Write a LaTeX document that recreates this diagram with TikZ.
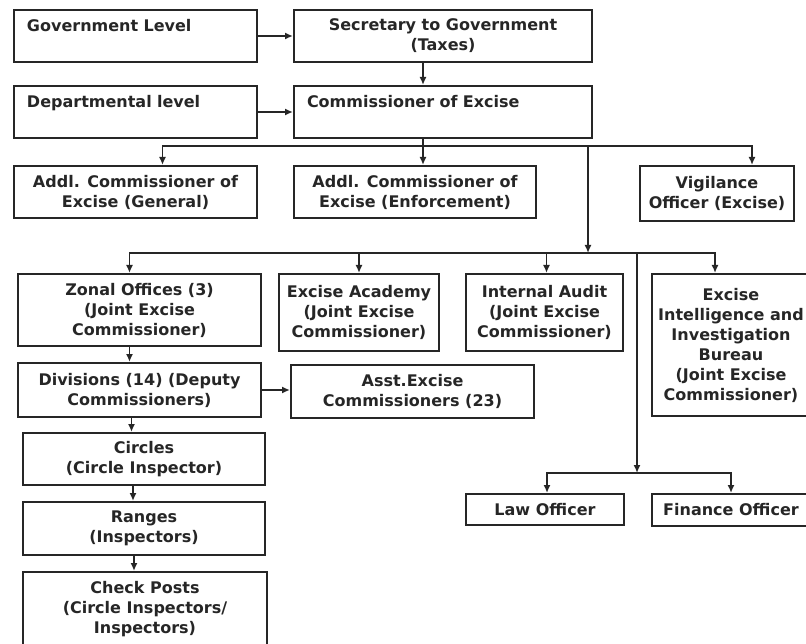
\documentclass[tikz,border=0pt]{standalone}
\usepackage{fontspec}
\setmainfont{DejaVu Sans}
\usetikzlibrary{positioning,arrows.meta}
\definecolor{ink}{HTML}{262626}
\tikzset{
    box/.style = {
        draw=ink,
        shape=rectangle,
        anchor=north west,
        align=center,
        inner sep=3pt,
        line width=2pt,
        text=ink,
        font=\bfseries\fontsize{16}{20}\selectfont
    },
    headbox/.style = {
        box,
        align=left,
        text width=#1,
        inner xsep=13pt,
        text height=19pt,
        text depth=27pt
    },
    link/.style = {
        draw=ink,
        line width=1.6pt
    },
    >={Latex[length=8pt, width=7pt]},
}

\begin{document}
\begin{tikzpicture}[x=1pt, y=-1pt]
            \useasboundingbox (0,0) rectangle (806,644);

            \node[headbox=217pt] (gov) at (13,9) {Government Level};
            \node[box, minimum width=298pt, minimum height=52pt] (sec) at (293,9) {Secretary to Government\\(Taxes)};
            \node[headbox=217pt] (dept) at (13,85) {Departmental level};
            \node[headbox=272pt] (comm) at (293,85) {Commissioner of Excise};

            \node[box, minimum width=243pt, minimum height=52pt] (addlg) at (13,165) {Addl. Commissioner of\\Excise (General)};
            \node[box, minimum width=242pt, minimum height=52pt] (addle) at (293,165) {Addl. Commissioner of\\Excise (Enforcement)};
            \node[box, minimum width=154pt, minimum height=55pt] (vig) at (639,165) {Vigilance\\Officer (Excise)};

            \node[box, minimum width=243pt, minimum height=72pt] (zone) at (17,273) {Zonal Offices (3)\\(Joint Excise\\Commissioner)};
            \node[box, minimum width=160pt, minimum height=77pt] (acad) at (278,273) {Excise Academy\\(Joint Excise\\Commissioner)};
            \node[box, minimum width=157pt, minimum height=77pt] (audit) at (465,273) {Internal Audit\\(Joint Excise\\Commissioner)};
            \node[box, minimum width=158pt, minimum height=142pt] (intel) at (651,273) {Excise\\Intelligence and\\Investigation\\Bureau\\(Joint Excise\\Commissioner)};

            \node[box, minimum width=243pt, minimum height=54pt] (div) at (17,362) {Divisions (14) (Deputy\\Commissioners)};
            \node[box, minimum width=243pt, minimum height=53pt] (asst) at (290,364) {Asst.Excise\\Commissioners (23)};
            \node[box, minimum width=242pt, minimum height=52pt] (circ) at (22,432) {Circles\\(Circle Inspector)};
            \node[box, minimum width=242pt, minimum height=53pt] (rng) at (22,501) {Ranges\\(Inspectors)};
            \node[box, minimum width=244pt, minimum height=75pt] (chk) at (22,571) {Check Posts\\(Circle Inspectors/\\Inspectors)};

            \node[box, minimum width=158pt, minimum height=31pt] (law) at (465,493) {Law Officer};
            \node[box, minimum width=158pt, minimum height=32pt] (fin) at (651,493) {Finance Officer};

            \coordinate (c1) at (423,146);
            \coordinate (c2) at (588,253);
            \coordinate (c3) at (637,473);

            \path[link, ->] (gov) -- (sec);
            \path[link, ->] (dept) -- (comm);
            \path[link, ->] (sec.south -| c1) -- (comm.north -| c1);
            \path[link] (comm.south -| c1) -- (c1);
            \path[link, ->] (c1) -| ([xshift=27pt]addlg.north);
            \path[link, ->] (c1) -- (addle.north -| c1);
            \path[link, ->] (c1) -| ([xshift=35pt]vig.north);
            \path[link, ->] (c1 -| c2) -- (c2);

            \path[link, ->] (c2) -| ([xshift=-10pt]zone.north);
            \path[link, ->] (c2) -| (acad.north);
            \path[link, ->] (c2) -| ([xshift=2pt]audit.north);
            \path[link, ->] (c2) -| ([xshift=-16pt]intel.north);
            \path[link, ->] (c2 -| c3) -- (c3);
            \path[link, ->] (c3) -| ([xshift=2pt]law.north);
            \path[link, ->] (c3) -| (fin.north);

            % left column
            \path[link, ->] ([xshift=-10pt]zone.south) -- ([xshift=-10pt]zone.south |- div.north);
            \path[link, ->] ([xshift=-8pt]div.south) -- ([xshift=-8pt]div.south |- circ.north);
            \path[link, ->] ([xshift=-11pt]circ.south) -- ([xshift=-11pt]circ.south |- rng.north);
            \path[link, ->] ([xshift=-10pt]rng.south) -- ([xshift=-10pt]rng.south |- chk.north);
            \path[link, ->] (div.east) -- (div.east -| asst.west);
\end{tikzpicture}
\end{document}
